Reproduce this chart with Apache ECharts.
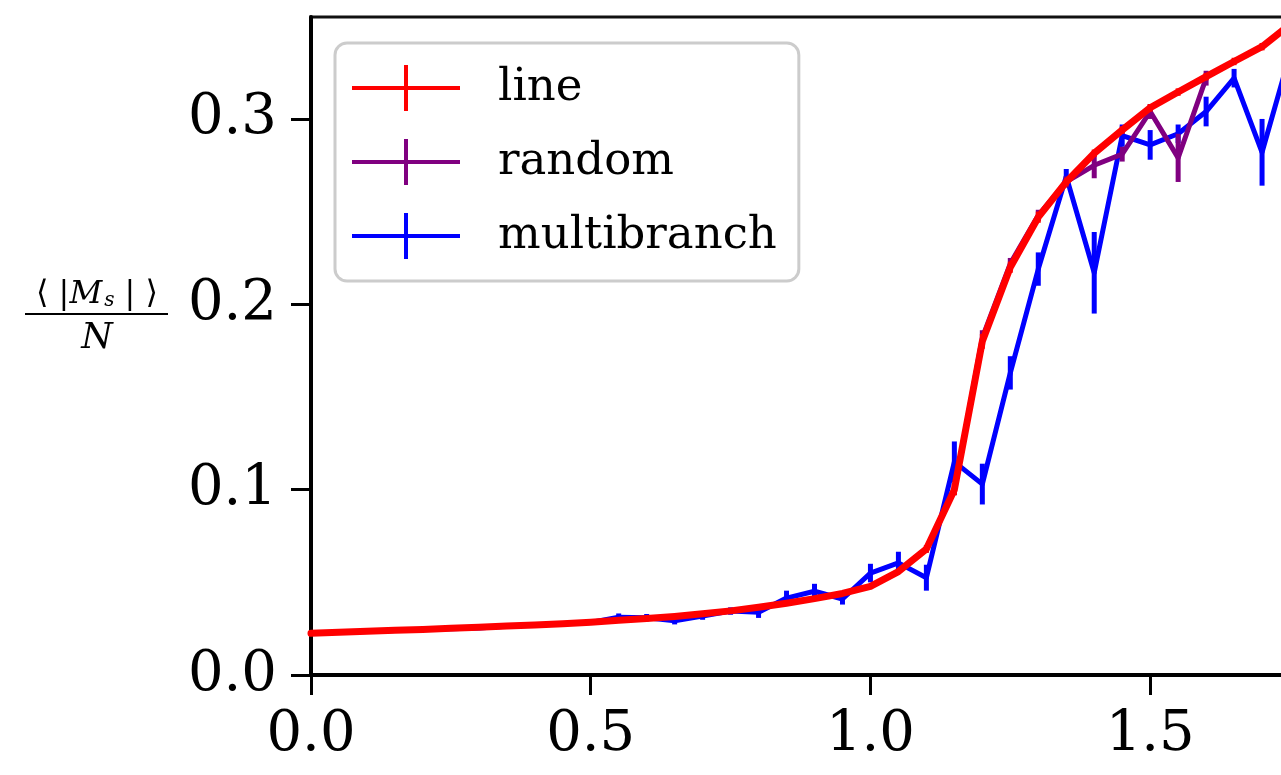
<!DOCTYPE html>
<html>
<head>
<meta charset="utf-8">
<title>Staggered magnetization</title>
<script src="https://cdn.jsdelivr.net/npm/echarts@6/dist/echarts.min.js"></script>
<style>
  html, body { margin: 0; padding: 0; background: #ffffff; overflow: hidden; }
  #chart { width: 1340px; height: 775px; }
</style>
</head>
<body>
<div id="chart"></div>
<script>
// Temperature grid shared by all three update schemes
const temps = [0.00, 0.05, 0.10, 0.15, 0.20, 0.25, 0.30, 0.35, 0.40, 0.45,
               0.50, 0.55, 0.60, 0.65, 0.70, 0.75, 0.80, 0.85, 0.90, 0.95,
               1.00, 1.05, 1.10, 1.15, 1.20, 1.25, 1.30, 1.35, 1.40, 1.45,
               1.50, 1.55, 1.60, 1.65, 1.70, 1.75];

// <|M_s|>/N for the "line" update
const lineVals = [0.0225, 0.0230, 0.0236, 0.0241, 0.0246, 0.0252, 0.0258, 0.0264, 0.0270, 0.0277,
                  0.0285, 0.0295, 0.0305, 0.0316, 0.0330, 0.0346, 0.0365, 0.0387, 0.0412, 0.0440,
                  0.0478, 0.0558, 0.0680, 0.1000, 0.1800, 0.2200, 0.2470, 0.2660, 0.2815, 0.2940,
                  0.3060, 0.3145, 0.3228, 0.3310, 0.3390, 0.3510];
const lineErr  = [0.001, 0.001, 0.001, 0.001, 0.001, 0.001, 0.001, 0.001, 0.001, 0.001,
                  0.001, 0.001, 0.001, 0.001, 0.001, 0.001, 0.001, 0.001, 0.001, 0.001,
                  0.001, 0.001, 0.002, 0.003, 0.004, 0.003, 0.003, 0.002, 0.002, 0.002,
                  0.002, 0.002, 0.002, 0.002, 0.002, 0.002];

// "random" update (temperatures up to 1.60)
const randomVals = [0.0225, 0.0230, 0.0236, 0.0241, 0.0246, 0.0252, 0.0258, 0.0264, 0.0270, 0.0277,
                    0.0285, 0.0295, 0.0305, 0.0316, 0.0330, 0.0346, 0.0365, 0.0387, 0.0412, 0.0440,
                    0.0478, 0.0558, 0.0680, 0.1000, 0.1820, 0.2220, 0.2480, 0.2660, 0.2750, 0.2810,
                    0.3040, 0.2790, 0.3220];
const randomErr  = [0.001, 0.001, 0.001, 0.001, 0.001, 0.001, 0.001, 0.001, 0.001, 0.001,
                    0.001, 0.001, 0.001, 0.001, 0.001, 0.001, 0.001, 0.001, 0.001, 0.001,
                    0.001, 0.001, 0.002, 0.003, 0.004, 0.003, 0.003, 0.003, 0.007, 0.004,
                    0.004, 0.013, 0.004];

// "multibranch" update
const multiVals = [0.0225, 0.0231, 0.0235, 0.0240, 0.0246, 0.0250, 0.0253, 0.0263, 0.0270, 0.0276,
                   0.0283, 0.0312, 0.0309, 0.0293, 0.0318, 0.0345, 0.0338, 0.0415, 0.0452, 0.0410,
                   0.0550, 0.0605, 0.0525, 0.1150, 0.1030, 0.1630, 0.2190, 0.2690, 0.2170, 0.2910,
                   0.2860, 0.2920, 0.3040, 0.3220, 0.2820, 0.3350];
const multiErr  = [0.001, 0.001, 0.001, 0.001, 0.001, 0.001, 0.001, 0.001, 0.001, 0.001,
                   0.001, 0.002, 0.002, 0.002, 0.002, 0.002, 0.003, 0.004, 0.004, 0.003,
                   0.005, 0.006, 0.007, 0.011, 0.011, 0.009, 0.009, 0.004, 0.022, 0.006,
                   0.008, 0.005, 0.008, 0.005, 0.018, 0.010];

const xTicks = [0.0, 0.5, 1.0, 1.5];
const yTicks = [0.0, 0.1, 0.2, 0.3];

const seriesNames = ['line', 'random', 'multibranch'];
const seriesColors = ['#ff0000', '#800080', '#0000ff'];

const SERIF = '"DejaVu Serif", "Liberation Serif", serif';

function pairs(vals) {
  return vals.map((v, i) => [temps[i], v]);
}
function bars(vals, errs) {
  return vals.map((v, i) => [temps[i], v - errs[i], v + errs[i]]);
}
function errorBarSeries(name, vals, errs, color, width, z) {
  return {
    name: name + ' err',
    type: 'custom',
    z: z,
    silent: true,
    data: bars(vals, errs),
    encode: { x: 0, y: [1, 2] },
    renderItem: function (params, api) {
      const lo = api.coord([api.value(0), api.value(1)]);
      const hi = api.coord([api.value(0), api.value(2)]);
      return {
        type: 'line',
        shape: { x1: lo[0], y1: lo[1], x2: hi[0], y2: hi[1] },
        style: { stroke: color, lineWidth: width }
      };
    }
  };
}
function lineSeries(name, vals, color, width, z) {
  return {
    name: name,
    type: 'line',
    z: z,
    data: pairs(vals),
    showSymbol: false,
    symbol: 'none',
    smooth: false,
    animation: false,
    itemStyle: { color: color },
    lineStyle: { color: color, width: width, join: 'round', cap: 'round' }
  };
}

const chart = echarts.init(document.getElementById('chart'), null, { renderer: 'canvas' });

const option = {
  backgroundColor: '#ffffff',
  animation: false,
  grid: {
    left: 311, top: 17, width: 1007, height: 658,
    show: true, borderColor: '#111111', borderWidth: 3, backgroundColor: 'transparent'
  },
  xAxis: {
    type: 'value', min: 0, max: 1.8,
    splitLine: { show: false },
    axisLine: { show: true, onZero: false, lineStyle: { color: '#000000', width: 4 } },
    axisTick: { show: true, inside: false, length: 20, customValues: xTicks,
                lineStyle: { color: '#000000', width: 3 } },
    axisLabel: { customValues: xTicks, margin: 32, color: '#000000',
                 fontFamily: SERIF, fontSize: 56,
                 formatter: v => v.toFixed(1) }
  },
  yAxis: {
    type: 'value', min: 0, max: 0.355,
    splitLine: { show: false },
    axisLine: { show: true, onZero: false, lineStyle: { color: '#000000', width: 4 } },
    axisTick: { show: true, inside: false, length: 20, customValues: yTicks,
                lineStyle: { color: '#000000', width: 3 } },
    axisLabel: { customValues: yTicks, margin: 34, color: '#000000',
                 fontFamily: SERIF, fontSize: 56,
                 formatter: v => v.toFixed(1) }
  },
  legend: {
    data: seriesNames,
    orient: 'vertical',
    left: 335, top: 43,
    padding: [22, 22, 22, 17],
    itemGap: 28,
    itemWidth: 108,
    itemHeight: 46,
    icon: 'path://M0,21H108V25H0Z M52,0H56V46H52Z',
    backgroundColor: '#ffffff',
    borderColor: '#cccccc',
    borderWidth: 3,
    borderRadius: 12,
    selectedMode: false,
    textStyle: { color: '#000000', fontFamily: SERIF, fontSize: 45, padding: [0, 0, 0, 33] }
  },
  graphic: [
    {
      // y-axis quantity written as a fraction: <|M_s|> over N
      type: 'text',
      z: 10,
      style: {
        text: '{a|⟨ |}{m|M}{s|s}{a| | ⟩}',
        x: 97, y: 295,
        align: 'center', verticalAlign: 'middle',
        rich: {
          a: { font: '32px ' + SERIF, fill: '#000000' },
          m: { font: 'italic 32px ' + SERIF, fill: '#000000' },
          s: { font: 'italic 20px ' + SERIF, fill: '#000000', padding: [12, 0, 0, 2] }
        }
      }
    },
    {
      type: 'rect',
      z: 10,
      shape: { x: 25, y: 313, width: 143, height: 2 },
      style: { fill: '#000000' }
    },
    {
      type: 'text',
      z: 10,
      style: {
        text: 'N', x: 97, y: 339,
        align: 'center', verticalAlign: 'middle',
        font: 'italic 36px ' + SERIF, fill: '#000000'
      }
    }
  ],
  series: [
    lineSeries('multibranch', multiVals, seriesColors[2], 5, 2),
    errorBarSeries('multibranch', multiVals, multiErr, seriesColors[2], 5, 2),
    lineSeries('random', randomVals, seriesColors[1], 5, 3),
    errorBarSeries('random', randomVals, randomErr, seriesColors[1], 5, 3),
    lineSeries('line', lineVals, seriesColors[0], 7, 4),
    errorBarSeries('line', lineVals, lineErr, seriesColors[0], 5, 4)
  ]
};

chart.setOption(option);
</script>
</body>
</html>
